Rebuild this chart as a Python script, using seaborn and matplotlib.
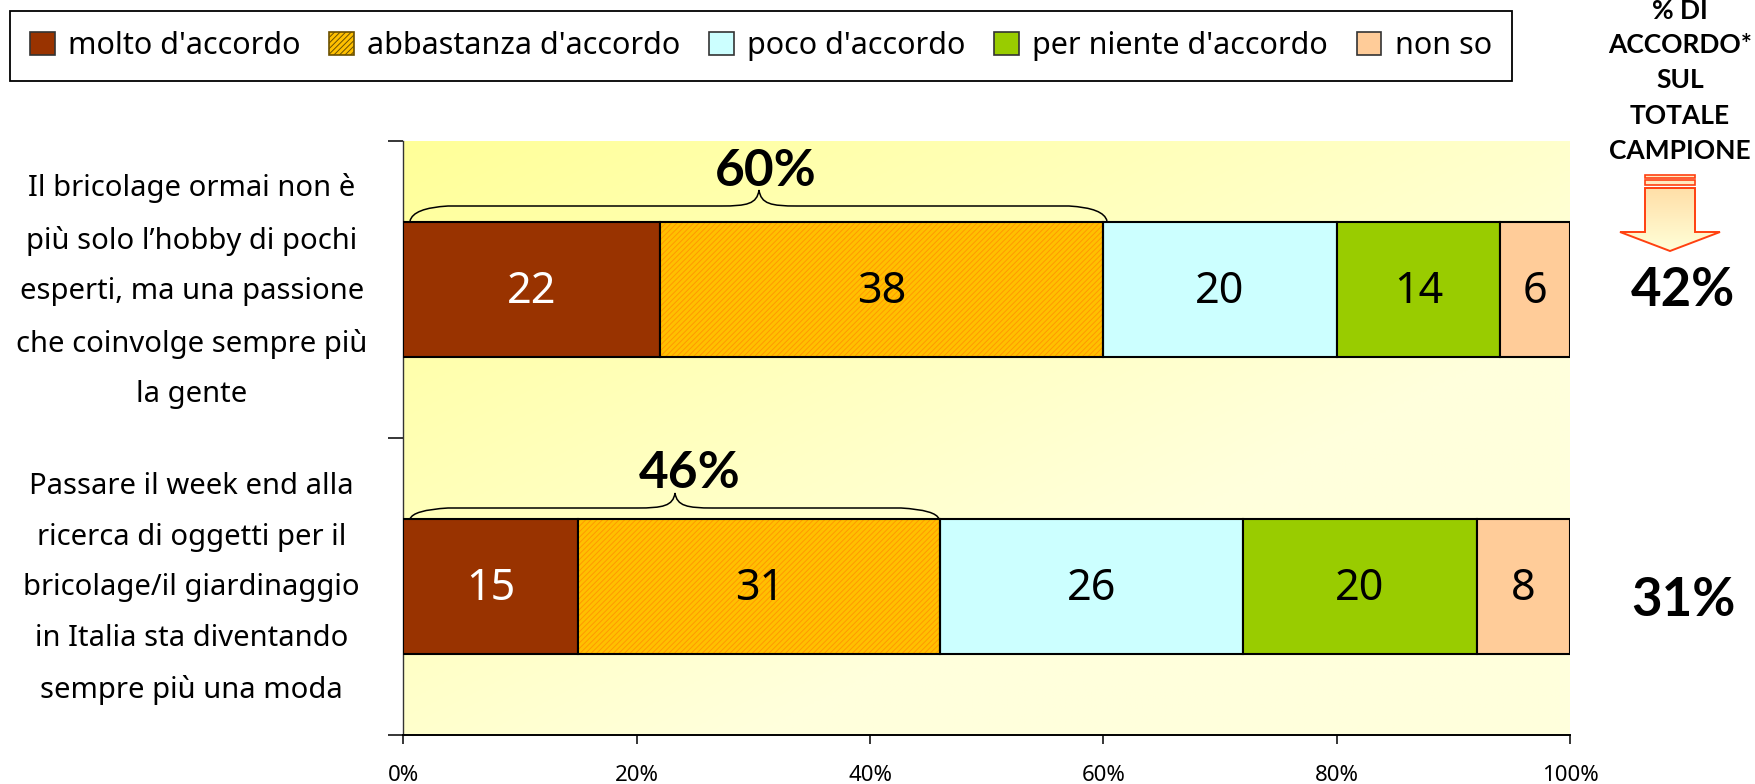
import numpy as np
import pandas as pd
import matplotlib
matplotlib.use("Agg")
import matplotlib.pyplot as plt
import seaborn as sns
from matplotlib.patches import Patch, PathPatch, Polygon, Rectangle
from matplotlib.path import Path
from matplotlib.colors import LinearSegmentedColormap
from matplotlib.transforms import ScaledTranslation

# Data
statements = [
    "Il bricolage ormai non è\npiù solo l’hobby di pochi\nesperti, ma una passione\nche coinvolge sempre più\nla gente",
    "Passare il week end alla\nricerca di oggetti per il\nbricolage/il giardinaggio\nin Italia sta diventando\nsempre più una moda",
]
answers = ["molto d'accordo", "abbastanza d'accordo", "poco d'accordo", "per niente d'accordo", "non so"]
molto = [22, 15]
abbastanza = [38, 31]
poco = [20, 26]
per_niente = [14, 20]
non_so = [6, 8]
agree_labels = ["60%", "46%"]
total_labels = ["42%", "31%"]
x_ticks = [0, 20, 40, 60, 80, 100]

colors = ["#993300", "#FFC000", "#CCFFFF", "#99CC00", "#FFCC99"]
text_colors = ["white", "black", "black", "black", "black"]

W, H = 1756, 784
sns.set_style("white")
plt.rcParams["font.family"] = ["Noto Sans", "DejaVu Sans"]
plt.rcParams["hatch.linewidth"] = 0.7
plt.rcParams["text.color"] = "black"
plt.rcParams["xtick.labelcolor"] = "black"
plt.rcParams["ytick.labelcolor"] = "black"

BOLD = ["Lato", "DejaVu Sans"]

fig = plt.figure(figsize=(W / 100, H / 100), dpi=100)
ax = fig.add_axes([403.5 / W, 1 - 735 / H, (1570 - 403.5) / W, (735 - 141) / H])


def px(x, y):
    # picture pixels to figure fraction
    return x / W, 1 - y / H


# Pale yellow background gradient in the plot area
bg = LinearSegmentedColormap.from_list("bg", ["#FFFF99", "#FFFFDC"])
gx, gy = np.meshgrid(np.linspace(0, 1, 200), np.linspace(0, 1, 200))
ax.imshow(np.clip((gx + gy) / 1.3, 0, 1), cmap=bg, extent=(0, 1, 0, 1), origin="upper",
          transform=ax.transAxes, aspect="auto", zorder=0)

# Stacked bars
df = pd.DataFrame({"statement": statements, "molto": molto, "abbastanza": abbastanza,
                   "poco": poco, "per_niente": per_niente, "non_so": non_so})
series = ["molto", "abbastanza", "poco", "per_niente", "non_so"]
left = np.zeros(len(statements))
for name, color, tc in zip(series, colors, text_colors):
    before = len(ax.patches)
    sns.barplot(data=df, x=name, y="statement", left=left, color=color, width=0.455,
                saturation=1, edgecolor="black", linewidth=1.5, ax=ax, zorder=3)
    bars = ax.patches[before:]
    if name == "abbastanza":
        # hatching sits in its own layer so the outline stays black
        for b in bars:
            b.set_zorder(4)
            b.set_facecolor("none")
            ax.add_patch(Rectangle(b.get_xy(), b.get_width(), b.get_height(), facecolor=color,
                                   edgecolor="#FF9900", hatch="//////", linewidth=0, zorder=3))
    for b, v in zip(bars, df[name]):
        ax.annotate(str(v), (b.get_x() + b.get_width() / 2, b.get_y() + b.get_height() / 2),
                    xytext=(0, -2), textcoords="offset points",
                    color=tc, fontsize=31, ha="center", va="center", zorder=5)
    left = left + df[name].to_numpy()

ax.set_xlim(0, 100)
ax.set_ylim(1.5, -0.5)
ax.set_xlabel("")
ax.set_ylabel("")
ax.set_xticks(x_ticks)
ax.set_xticklabels([f"{t}%" for t in x_ticks], fontsize=16)
ax.tick_params(axis="x", bottom=True, length=6.5, width=1.1, color="black", pad=15)
ax.set_yticks([-0.5, 0.5, 1.5], minor=True)
ax.tick_params(axis="y", which="minor", left=True, length=11, width=1.1, color="black")
ax.tick_params(axis="y", which="major", left=False, pad=149, labelsize=21)
for lab in ax.get_yticklabels():
    lab.set_ha("center")
    lab.set_multialignment("center")
    lab.set_linespacing(1.98)
    lab.set_transform(lab.get_transform() + ScaledTranslation(0, 9 / 72, fig.dpi_scale_trans))

sns.despine(ax=ax, top=True, right=True)
ax.spines["left"].set_color("#333333")
ax.spines["left"].set_linewidth(1.0)
ax.spines["bottom"].set_color("black")
ax.spines["bottom"].set_linewidth(1.4)
ax.set_zorder(2)

# Legend
handles = []
for i, (a, c) in enumerate(zip(answers, colors)):
    if i == 1:
        handles.append(Patch(facecolor=c, edgecolor="#6b5000", hatch="//////", linewidth=1.2, label=a))
    else:
        handles.append(Patch(facecolor=c, edgecolor="#333333", linewidth=1.2, label=a))
leg = fig.legend(handles=handles, ncol=5, loc="center", bbox_to_anchor=(761 / W, 1 - 46 / H),
                 fancybox=False, framealpha=1, edgecolor="black", fontsize=22,
                 handlelength=0.8, handleheight=0.8, handletextpad=0.45,
                 columnspacing=0.93, borderpad=0.65, borderaxespad=0)
leg.get_frame().set_linewidth(1.3)


def brace(x0, x1, xm, y_end, y_top, y_tip):
    # curly bracket above a bar, given in picture pixels
    r = 38
    verts = [(x0, y_end), (x0 + 3, y_top + 2), (x0 + r, y_top), (xm - r, y_top),
             (xm - r + 26, y_top), (xm - 2, y_top - 2), (xm, y_tip),
             (xm + 2, y_top - 2), (xm + r - 26, y_top), (xm + r, y_top),
             (x1 - r, y_top), (x1 - 3, y_top + 2), (x1, y_end)]
    codes = [Path.MOVETO, Path.CURVE3, Path.CURVE3, Path.LINETO,
             Path.CURVE4, Path.CURVE4, Path.CURVE4,
             Path.CURVE4, Path.CURVE4, Path.CURVE4,
             Path.LINETO, Path.CURVE3, Path.CURVE3]
    fig.add_artist(PathPatch(Path([px(*v) for v in verts], codes), facecolor="none",
                             edgecolor="black", linewidth=1.1, transform=fig.transFigure, zorder=6))


brace(410, 1107, 759, 221, 206, 190)
brace(410, 939, 675, 519, 508, 493)
fig.text(*px(766, 171), agree_labels[0], fontsize=37, fontweight="bold", family=BOLD,
         ha="center", va="center", zorder=6)
fig.text(*px(690, 474), agree_labels[1], fontsize=37, fontweight="bold", family=BOLD,
         ha="center", va="center", zorder=6)

# Right column
for y, line in zip([11, 45, 80, 116, 151], ["% DI", "ACCORDO*", "SUL", "TOTALE", "CAMPIONE"]):
    fig.text(*px(1680, y), line, fontsize=19, fontweight="bold", family=BOLD, ha="center", va="center")
for y, s in zip([291, 601], total_labels):
    fig.text(*px(1683, y), s, fontsize=38, fontweight="bold", family=BOLD, ha="center", va="center")

# Arrow down to the 42%
arrow_c = "#FF4010"
outline = [(1645, 188), (1695, 188), (1695, 232), (1720, 232), (1670, 251), (1620, 232), (1645, 232)]
poly = Polygon([px(*p) for p in outline], closed=True, facecolor="none", edgecolor=arrow_c,
               linewidth=1.4, transform=fig.transFigure, zorder=6)
fig.add_artist(poly)
grad_ax = fig.add_axes([1620 / W, 1 - 251 / H, 100 / W, 63 / H])
grad_ax.axis("off")
im = grad_ax.imshow(np.linspace(0, 1, 100).reshape(-1, 1),
                    cmap=LinearSegmentedColormap.from_list("arrow", ["#FFDFA8", "#FFFFD8"]),
                    aspect="auto", extent=(0, 1, 0, 1), transform=fig.transFigure)
im.set_extent((1620 / W, 1720 / W, 1 - 251 / H, 1 - 188 / H))
im.set_clip_path(Polygon([px(*p) for p in outline], closed=True, transform=fig.transFigure))
for y0, y1 in [(175, 178), (180, 185)]:
    fig.add_artist(Rectangle(px(1645, y1), 50 / W, (y1 - y0) / H, facecolor="#FFE9C0", edgecolor=arrow_c,
                             linewidth=1.2, transform=fig.transFigure, zorder=6))

fig.savefig("out.png", dpi=100)
plt.close(fig)
